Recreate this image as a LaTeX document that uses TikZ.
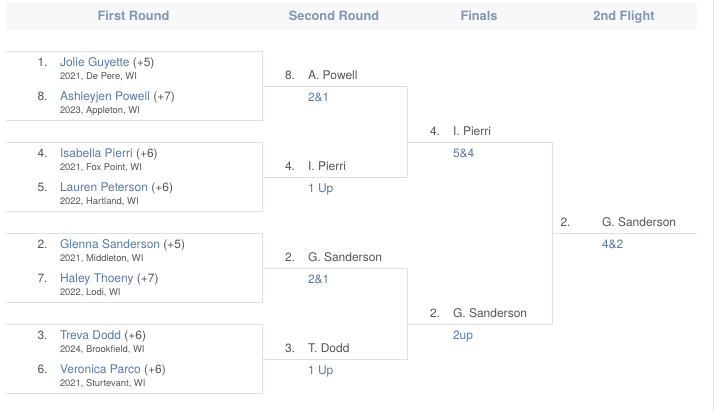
\documentclass[tikz,border=0pt]{standalone}
\usepackage{fontspec}
\setmainfont{TeX Gyre Heros}
\definecolor{bandc}{HTML}{F6F8FA}
\definecolor{headc}{HTML}{8696AF}
\definecolor{linec}{HTML}{DFE1EA}
\definecolor{bluec}{HTML}{5A7AA8}
\definecolor{textc}{HTML}{555555}
\definecolor{subc}{HTML}{555555}
\tikzset{
  base/.style={inner sep=0pt,outer sep=0pt,anchor=base west},
  seed/.style={base,font=\fontsize{12}{14}\selectfont,text=textc},
  plain/.style={base,font=\fontsize{12}{14}\selectfont,text=textc},
  result/.style={base,font=\fontsize{12}{14}\selectfont,text=bluec},
  sub/.style={base,font=\fontsize{9.4}{11}\selectfont,text=subc},
  head/.style={inner sep=0pt,anchor=base,font=\fontsize{12.8}{14}\selectfont\bfseries,text=headc},
  conn/.style={draw=linec,line width=1pt},
}
\newcommand{\blu}[1]{\textcolor{bluec}{#1}}
\begin{document}
\begin{tikzpicture}[x=1pt,y=-1pt]
\useasboundingbox (0,0) rectangle (714,412);
\fill[white] (0,0) rectangle (714,412);
\fill[bandc] (6,3) rectangle (697,30);
\draw[linec,line width=1pt] (713.5,0) -- (713.5,412);
% headers
\node[head] (h1) at (133.5,21) {First Round};
\node[head] (h2) at (334,21) {Second Round};
\node[head] (h3) at (479,21) {Finals};
\node[head] (h4) at (624,21) {2nd Flight};
% connector corners
\coordinate (a1) at (6,51.5);   \coordinate (a2) at (262.5,51.5);
\coordinate (a3) at (262.5,120.5); \coordinate (a4) at (6,120.5);
\coordinate (b1) at (6,142.5);  \coordinate (b2) at (262.5,142.5);
\coordinate (b3) at (262.5,211.5); \coordinate (b4) at (6,211.5);
\coordinate (c1) at (6,233.5);  \coordinate (c2) at (262.5,233.5);
\coordinate (c3) at (262.5,302.5); \coordinate (c4) at (6,302.5);
\coordinate (d1) at (6,324.5);  \coordinate (d2) at (262.5,324.5);
\coordinate (d3) at (262.5,393.5); \coordinate (d4) at (6,393.5);
\coordinate (e1) at (262.5,86.5);  \coordinate (e2) at (407.5,86.5);
\coordinate (e3) at (407.5,177.5); \coordinate (e4) at (262.5,177.5);
\coordinate (f1) at (262.5,268.5); \coordinate (f2) at (407.5,268.5);
\coordinate (f3) at (407.5,359.5); \coordinate (f4) at (262.5,359.5);
\coordinate (g1) at (407.5,142.5); \coordinate (g2) at (552.5,142.5);
\coordinate (g3) at (552.5,324.5); \coordinate (g4) at (407.5,324.5);
\coordinate (k1) at (552.5,233.5); \coordinate (k2) at (697,233.5);
\draw[conn] (a1) -- (a2) -- (a3) -- (a4);
\draw[conn] (b1) -- (b2) -- (b3) -- (b4);
\draw[conn] (c1) -- (c2) -- (c3) -- (c4);
\draw[conn] (d1) -- (d2) -- (d3) -- (d4);
\draw[conn] (e1) -- (e2) -- (e3) -- (e4);
\draw[conn] (f1) -- (f2) -- (f3) -- (f4);
\draw[conn] (g1) -- (g2) -- (g3) -- (g4);
\draw[conn] (k1) -- (k2);
% first round
\node[seed] (s1) at (37.5,66.3) {1.};
\node[plain] (n1) at (60,66.3) {\blu{Jolie Guyette} (+5)};
\node[sub] (i1) at (60,79.5) {2021, De Pere, WI};
\node[seed] (s2) at (37.5,100) {8.};
\node[plain] (n2) at (60,100) {\blu{Ashleyjen Powell} (+7)};
\node[sub] (i2) at (60,113.5) {2023, Appleton, WI};
\node[seed] (s3) at (37.5,157) {4.};
\node[plain] (n3) at (60,157) {\blu{Isabella Pierri} (+6)};
\node[sub] (i3) at (60,170.5) {2021, Fox Point, WI};
\node[seed] (s4) at (37.5,191) {5.};
\node[plain] (n4) at (60,191) {\blu{Lauren Peterson} (+6)};
\node[sub] (i4) at (60,204.5) {2022, Hartland, WI};
\node[seed] (s5) at (37.5,248) {2.};
\node[plain] (n5) at (60,248) {\blu{Glenna Sanderson} (+5)};
\node[sub] (i5) at (60,261.5) {2021, Middleton, WI};
\node[seed] (s6) at (37.5,282) {7.};
\node[plain] (n6) at (60,282) {\blu{Haley Thoeny} (+7)};
\node[sub] (i6) at (60,295.5) {2022, Lodi, WI};
\node[seed] (s7) at (37.5,339) {3.};
\node[plain] (n7) at (60,339) {\blu{Treva Dodd} (+6)};
\node[sub] (i7) at (60,352.5) {2024, Brookfield, WI};
\node[seed] (s8) at (37.5,373) {6.};
\node[plain] (n8) at (60,373) {\blu{Veronica Parco} (+6)};
\node[sub] (i8) at (60,386.5) {2021, Sturtevant, WI};
% second round
\node[seed] (s9) at (285,79) {8.};
\node[plain] (n9) at (308,79) {A. Powell};
\node[result] (r9) at (308,101) {2\&1};
\node[seed] (s10) at (285,170) {4.};
\node[plain] (n10) at (308,170) {I. Pierri};
\node[result] (r10) at (308,192) {1 Up};
\node[seed] (s11) at (285,261) {2.};
\node[plain] (n11) at (308,261) {G. Sanderson};
\node[result] (r11) at (308,283) {2\&1};
\node[seed] (s12) at (285,352) {3.};
\node[plain] (n12) at (308,352) {T. Dodd};
\node[result] (r12) at (308,374) {1 Up};
% finals
\node[seed] (s13) at (430,135) {4.};
\node[plain] (n13) at (453,135) {I. Pierri};
\node[result] (r13) at (453,157) {5\&4};
\node[seed] (s14) at (430,317) {2.};
\node[plain] (n14) at (453,317) {G. Sanderson};
\node[result] (r14) at (453,339) {2up};
% 2nd flight
\node[seed] (s15) at (560.5,226) {2.};
\node[plain] (n15) at (602,226) {G. Sanderson};
\node[result] (r15) at (602,248) {4\&2};
\end{tikzpicture}
\end{document}
